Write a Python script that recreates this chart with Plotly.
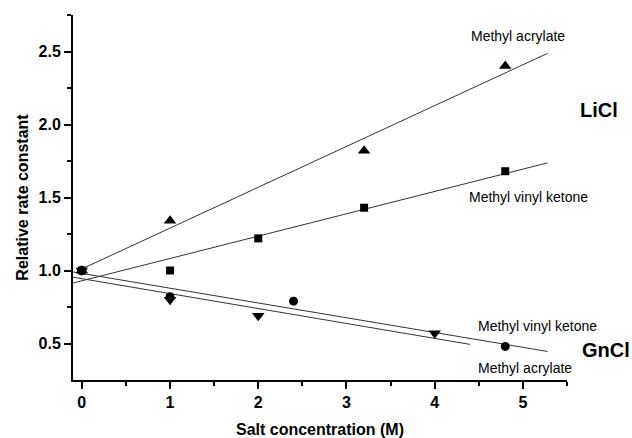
import numpy as np
import plotly.graph_objects as go

# Data
ma_licl_x = [0, 1, 3.2, 4.8]
ma_licl_y = [1.0, 1.34, 1.82, 2.40]
mvk_licl_x = [0, 1, 2, 3.2, 4.8]
mvk_licl_y = [1.0, 1.0, 1.22, 1.43, 1.68]
ma_gncl_x = [0, 1, 2.4, 4.8]
ma_gncl_y = [1.0, 0.82, 0.79, 0.48]
mvk_gncl_x = [0, 1, 2, 4]
mvk_gncl_y = [1.0, 0.80, 0.69, 0.57]

# Fit line extents
ma_licl_fit_range = [0, 5.28]
mvk_licl_fit_range = [-0.1, 5.28]
ma_gncl_fit_range = [-0.1, 5.28]
mvk_gncl_fit_range = [-0.1, 4.4]

x_ticks = [0, 1, 2, 3, 4, 5]
y_ticks = [0.5, 1.0, 1.5, 2.0, 2.5]

FONT = "Liberation Sans, Arial, sans-serif"

fig = go.Figure()

def fit_line(xs, ys, rng):
    m, b = np.polyfit(xs, ys, 1)
    xx = np.array(rng)
    return xx, m * xx + b

series = [
    (ma_licl_x, ma_licl_y, ma_licl_fit_range, "triangle-up", 11),
    (mvk_licl_x, mvk_licl_y, mvk_licl_fit_range, "square", 8),
    (ma_gncl_x, ma_gncl_y, ma_gncl_fit_range, "circle", 9),
    (mvk_gncl_x, mvk_gncl_y, mvk_gncl_fit_range, "triangle-down", 11),
]

for xs, ys, rng, sym, sz in series:
    fx, fy = fit_line(xs, ys, rng)
    fig.add_trace(go.Scatter(x=fx, y=fy, mode="lines",
                             line=dict(color="#333333", width=1),
                             showlegend=False, hoverinfo="skip"))
for xs, ys, rng, sym, sz in series:
    fig.add_trace(go.Scatter(x=xs, y=ys, mode="markers",
                             marker=dict(symbol=sym, size=sz, color="black",
                                         line=dict(width=0)),
                             showlegend=False, cliponaxis=False))

annots = [
    ("Methyl acrylate", 0.901, 0.942, 14, "normal"),
    ("LiCl", 1.065, 0.740, 20, "bold"),
    ("Methyl vinyl ketone", 0.923, 0.501, 14, "normal"),
    ("Methyl vinyl ketone", 0.941, 0.148, 14, "normal"),
    ("GnCl", 1.079, 0.082, 20, "bold"),
    ("Methyl acrylate", 0.915, 0.033, 14, "normal"),
]
for text, ax, ay, size, weight in annots:
    fig.add_annotation(x=ax, y=ay, xref="paper", yref="paper", text=text,
                       showarrow=False,
                       font=dict(family=FONT, size=size, color="black", weight=weight),
                       xanchor="center", yanchor="middle")

axis_common = dict(
    showline=True, linecolor="black", linewidth=2,
    ticks="outside", ticklen=7, tickwidth=1.5, tickcolor="black",
    showgrid=False, zeroline=False, automargin=False,
    tickfont=dict(family=FONT, size=16, color="black", weight="bold"),
    mirror=False,
)

fig.update_xaxes(range=[-0.1, 5.5], tickvals=x_ticks,
                 ticktext=[str(v) for v in x_ticks],
                 minor=dict(tickvals=[0.5, 1.5, 2.5, 3.5, 4.5, 5.5], ticklen=4,
                            ticks="outside", tickcolor="black", tickwidth=1.5),
                 title=dict(text="Salt concentration (M)", standoff=14,
                            font=dict(family=FONT, size=16, color="black", weight="bold")),
                 **axis_common)
fig.update_yaxes(range=[0.25, 2.75], tickvals=y_ticks,
                 ticktext=[f"{v:.1f}" for v in y_ticks],
                 minor=dict(tickvals=[0.75, 1.25, 1.75, 2.25, 2.75], ticklen=4,
                            ticks="outside", tickcolor="black", tickwidth=1.5),
                 title=dict(text="Relative rate constant", standoff=6,
                            font=dict(family=FONT, size=16, color="black", weight="bold")),
                 **axis_common)

fig.update_layout(
    width=632, height=438,
    margin=dict(l=73, r=65, t=15, b=58),
    plot_bgcolor="white", paper_bgcolor="white",
)

fig.write_html("out.html", config={"displayModeBar": False},
               post_script="document.body.style.margin='0';")
